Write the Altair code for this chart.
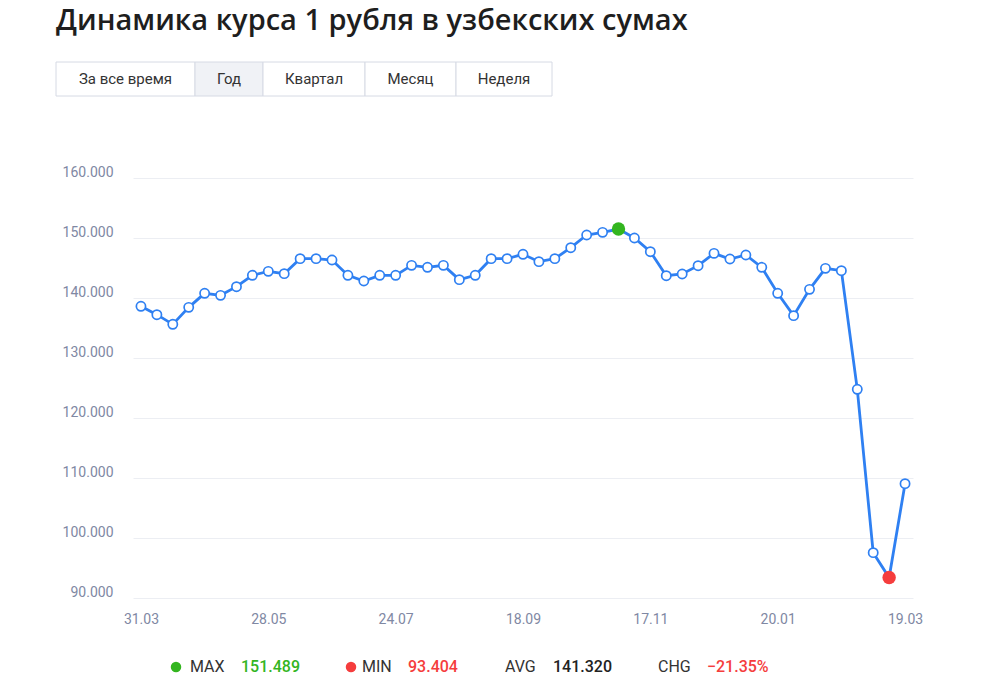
import altair as alt
import pandas as pd

# ---- data ----
rates = [138617, 137222, 135611, 138444, 140778, 140444, 141889, 143778, 144444, 144056,
         146556, 146556, 146333, 143778, 142833, 143778, 143778, 145444, 145111, 145444,
         143056, 143778, 146556, 146556, 147278, 146056, 146556, 148389, 150500, 150944,
         151489, 150000, 147722, 143722, 144000, 145389, 147444, 146500, 147167, 145111,
         140778, 137056, 141444, 144944, 144556, 124778, 97556, 93404, 109056]
tick_idx = [0, 8, 16, 24, 32, 40, 48]
tick_dates = ["31.03", "28.05", "24.07", "18.09", "17.11", "20.01", "19.03"]
y_ticks = [90000, 100000, 110000, 120000, 130000, 140000, 150000, 160000]

title_text = "Динамика курса 1 рубля в узбекских сумах"
buttons = ["За все время", "Год", "Квартал", "Месяц", "Неделя"]
button_selected = "Год"

stat_names = ["MAX", "MIN", "AVG", "CHG"]
stat_values = ["151.489", "93.404", "141.320", "−21.35%"]

BLUE = "#2f80f2"
GREEN = "#33b51f"
RED = "#f53d3d"
GREY = "#8088a3"

df = pd.DataFrame({"i": list(range(len(rates))), "v": rates})
imax = rates.index(max(rates))
imin = rates.index(min(rates))
ext = pd.DataFrame({"i": [imax, imin], "v": [rates[imax], rates[imin]], "kind": ["max", "min"]})

label_expr = "[" + ",".join(f"'{d}'" for d in tick_dates) + "][round(datum.value/8)]"

xenc = alt.X("i:Q", scale=alt.Scale(domain=[-0.5, len(rates) - 0.5], nice=False, zero=False),
             axis=alt.Axis(values=tick_idx, labelExpr=label_expr, grid=False, domain=False,
                           ticks=False, labelPadding=14, labelFontSize=14, labelColor=GREY,
                           labelFont="Roboto", title=None))
yenc = alt.Y("v:Q", scale=alt.Scale(domain=[90000, 160000], nice=False, zero=False),
             axis=alt.Axis(values=y_ticks, labelExpr="format(datum.value/1000, '.3f')",
                           grid=True, gridColor="#eceef3", domain=False, ticks=False,
                           labelPadding=20, labelOffset=-6, labelFontSize=14,
                           labelColor=GREY, labelFont="Roboto", title=None))

line = alt.Chart(df).mark_line(color=BLUE, strokeWidth=2.8).encode(x=xenc, y=yenc)
pts = alt.Chart(df).mark_point(shape="circle", filled=True, fill="white", stroke=BLUE,
                               strokeWidth=1.7, size=85, opacity=1).encode(x="i:Q", y="v:Q")
extp = alt.Chart(ext).mark_point(shape="circle", filled=True, size=180, opacity=1).encode(
    x="i:Q", y="v:Q",
    color=alt.Color("kind:N", scale=alt.Scale(domain=["max", "min"], range=[GREEN, RED]), legend=None))
data_layer = alt.layer(line, pts, extp)

# ---- decorations: title, buttons, bottom stats ----
title = alt.Chart(pd.DataFrame({"t": [title_text]})).mark_text(
    align="left", baseline="alphabetic", fontSize=29, fontWeight=600, font="Open Sans", color="#1e1e1e"
).encode(x=alt.value(-77), y=alt.value(-148), text="t:N")

edges = [-77, 62, 130, 232, 323, 419]
bdf = pd.DataFrame({
    "label": buttons,
    "x0": edges[:-1], "x1": edges[1:],
    "xc": [(a + b) / 2 for a, b in zip(edges[:-1], edges[1:])],
    "sel": [b == button_selected for b in buttons],
})
brect = alt.Chart(bdf).mark_rect(stroke="#d6dae4", strokeWidth=1).encode(
    x=alt.X("x0:Q", scale=None, axis=None), x2="x1:Q",
    y=alt.value(-116), y2=alt.value(-82),
    fill=alt.condition("datum.sel", alt.value("#f0f2f6"), alt.value("white")))
btext = alt.Chart(bdf).mark_text(fontSize=15, font="Roboto", color="#333333", baseline="middle").encode(
    x=alt.X("xc:Q", scale=None, axis=None), y=alt.value(-99), text="label:N")

sdf = pd.DataFrame({
    "name": stat_names, "val": stat_values,
    "nx": [57, 229, 372, 525], "vx": [108, 275, 420, 574],
    "vc": [GREEN, RED, "#222222", RED],
})
snames = alt.Chart(sdf).mark_text(align="left", baseline="middle", fontSize=16, font="Roboto",
                                  color="#333333").encode(
    x=alt.X("nx:Q", scale=None, axis=None), y=alt.value(489), text="name:N")
svals = alt.Chart(sdf).mark_text(align="left", baseline="middle", fontSize=16, font="Roboto",
                                 fontWeight=500).encode(
    x=alt.X("vx:Q", scale=None, axis=None), y=alt.value(489), text="val:N",
    color=alt.Color("vc:N", scale=None, legend=None))
ddf = pd.DataFrame({"dx": [43, 218], "dc": [GREEN, RED]})
sdots = alt.Chart(ddf).mark_point(shape="circle", filled=True, size=110, opacity=1).encode(
    x=alt.X("dx:Q", scale=None, axis=None), y=alt.value(489),
    color=alt.Color("dc:N", scale=None, legend=None))

chart = alt.layer(data_layer, title, brect, btext, snames, svals, sdots).resolve_scale(
    x="independent", y="independent", color="independent"
).properties(
    width=780, height=420,
    autosize=alt.AutoSizeParams(type="none"),
    padding={"left": 125, "top": 170, "right": 75, "bottom": 90},
).configure_view(stroke=None)

chart.save("out.html", embed_options={"renderer": "svg", "actions": False})
